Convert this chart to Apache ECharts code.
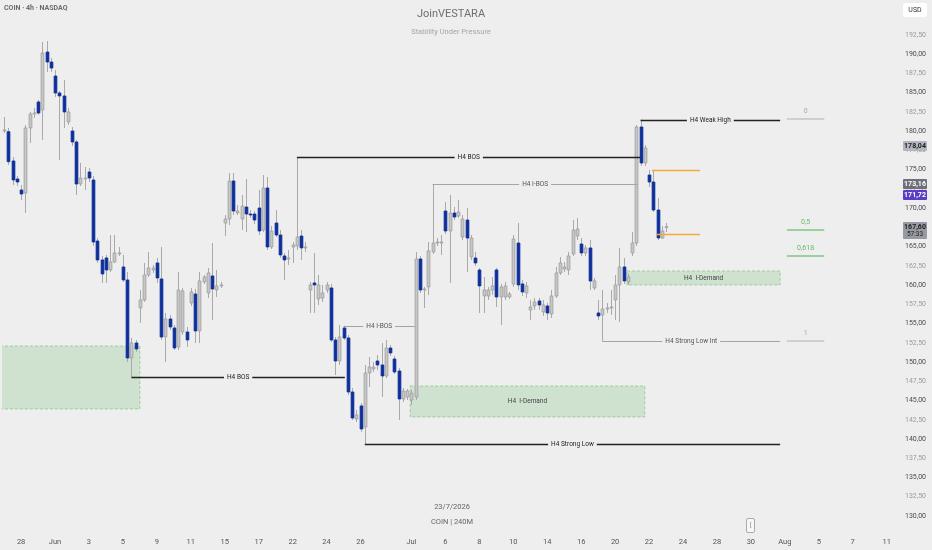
<!DOCTYPE html>
<html><head><meta charset="utf-8">
<script src="https://cdn.jsdelivr.net/npm/echarts/dist/echarts.min.js"></script>
<style>html,body{margin:0;padding:0;background:#eeeeee}#c{width:932px;height:550px}</style>
</head><body><div id="c"></div><script>
// ---- candle values (COIN 4h), index 0 = first 4h bar of 27 May ----
const open = [
180.09,179.94,176.13,173.79,172.36,171.97,180.42,182.30,183.80,182.76,
190.29,188.99,187.17,184.97,184.58,181.20,180.03,178.60,173.14,173.86,
174.70,173.66,165.73,163.27,163.53,161.97,163.01,164.05,162.36,160.67,
150.53,152.48,157.03,158.07,161.32,161.97,162.88,160.80,153.26,155.60,
154.43,151.96,153.91,153.91,157.68,158.85,154.04,160.41,158.98,161.19,
159.37,159.95,168.07,168.59,173.53,169.37,168.59,170.15,169.24,169.24,
170.02,167.16,172.62,164.96,168.07,166.51,163.79,163.46,164.96,165.08,
166.38,164.89,159.37,160.28,158.20,158.33,159.37,159.63,152.87,150.14,
154.43,153.13,146.11,142.60,144.30,141.56,148.58,149.10,150.14,149.62,
148.19,151.83,150.40,148.84,145.20,145.46,145.07,145.46,163.40,159.37,
159.76,164.31,165.47,165.54,169.63,167.03,169.37,168.98,166.25,168.46,
163.66,163.53,161.97,158.59,158.59,159.37,161.97,158.46,158.46,158.46,
160.15,165.47,160.15,158.98,156.77,157.29,157.94,156.51,157.29,156.25,
158.59,161.58,162.10,161.97,164.05,166.38,165.34,164.18,164.83,159.63,
156.38,156.12,156.96,157.09,158.07,160.02,162.36,160.41,164.18,165.47,
180.55,175.87,174.31,173.40,169.76,166.12,167.49];
const high = [
181.85,180.42,176.65,174.18,173.01,180.81,182.50,183.02,184.06,191.59,
191.72,189.51,187.95,185.23,186.65,183.02,180.55,178.86,175.87,175.35,
175.22,174.18,166.12,163.79,163.92,166.51,166.51,164.96,163.92,161.71,
153.13,152.87,159.37,162.88,164.31,162.62,163.53,164.96,156.38,156.12,
154.82,161.71,159.63,154.56,159.63,159.50,161.71,161.32,162.23,165.47,
161.97,160.41,169.11,174.57,174.57,170.41,171.71,173.79,169.76,169.63,
172.36,174.31,174.05,167.68,169.76,167.16,164.18,164.57,165.60,176.65,
167.16,165.60,160.41,164.18,161.32,160.02,160.41,160.15,153.26,154.82,
154.73,153.52,146.63,143.77,144.69,149.62,150.66,150.01,150.92,152.48,
152.87,152.22,150.79,149.23,146.63,146.50,146.37,164.31,163.79,159.76,
165.60,173.14,166.12,166.51,170.80,171.71,170.15,171.06,169.11,170.02,
166.51,164.31,162.23,161.06,159.76,161.06,162.23,160.15,160.41,159.11,
166.51,168.07,160.67,160.41,158.07,158.33,158.33,158.07,157.68,159.37,
162.36,163.66,163.01,164.31,168.46,168.72,166.12,165.21,165.86,160.93,
158.07,159.37,157.68,159.37,161.32,164.83,163.53,161.45,166.90,180.81,
181.52,178.21,174.96,174.83,171.32,167.68,168.07];
const low = [
179.77,175.61,173.01,172.88,171.06,169.37,178.47,181.72,182.11,178.86,
187.69,187.69,184.45,176.26,180.42,180.81,178.08,171.71,172.88,172.36,
173.40,165.08,162.88,160.28,160.28,161.71,162.88,163.79,160.41,150.01,
148.06,151.31,155.08,157.81,161.06,161.58,160.28,152.87,150.01,154.17,
151.57,151.57,153.52,151.96,157.29,152.48,152.48,160.15,158.33,155.47,
158.46,159.63,166.38,167.81,169.11,169.11,167.16,166.90,168.72,167.94,
166.51,166.90,164.57,164.70,166.25,163.53,160.67,162.62,162.88,164.57,
163.27,164.31,156.38,156.38,157.42,157.81,158.98,152.61,148.32,149.62,
152.87,145.72,142.47,142.21,140.92,139.36,146.76,148.71,148.97,145.46,
147.93,150.79,148.45,142.47,144.81,145.07,144.42,145.07,158.98,157.03,
158.72,164.05,165.08,163.92,166.64,160.28,168.46,168.72,165.86,161.71,
163.27,162.49,156.38,156.38,158.07,158.72,157.16,154.82,158.07,158.20,
159.76,159.37,158.59,158.33,155.47,156.77,156.77,156.00,155.47,155.73,
158.33,161.32,161.71,161.32,163.79,165.86,163.79,163.79,159.37,159.37,
155.47,152.74,156.38,156.12,155.47,155.21,160.15,160.02,163.79,165.08,
175.48,175.48,172.75,169.50,165.86,165.99,166.90];
const close = [
180.16,176.04,173.66,173.40,171.84,180.42,182.24,182.37,182.37,190.16,
188.99,188.21,184.97,184.58,182.50,182.50,178.60,173.14,173.92,173.92,
173.92,165.60,163.27,161.45,161.97,163.01,164.18,164.18,160.67,150.53,
152.48,151.70,158.07,161.32,162.23,162.23,160.93,153.26,155.60,154.56,
151.83,159.37,159.24,152.87,159.11,154.04,160.54,161.06,161.58,159.50,
159.89,160.02,168.59,173.53,169.63,169.63,170.28,169.24,169.11,168.46,
167.03,172.62,164.96,167.03,166.51,163.92,163.27,163.53,165.21,166.25,
164.83,164.96,160.02,160.02,160.02,158.98,160.02,152.87,150.14,153.26,
153.13,146.11,142.73,143.12,141.30,148.58,149.36,149.36,149.62,148.19,
151.83,151.18,148.71,145.20,146.24,146.24,145.98,163.40,159.37,159.50,
164.44,165.47,165.60,165.60,167.03,169.37,168.85,169.50,168.59,166.12,
166.12,162.88,159.89,159.37,159.37,159.89,158.46,159.76,159.89,158.85,
165.99,160.02,159.11,159.89,157.16,157.81,157.42,157.42,156.38,158.59,
161.58,162.88,162.36,163.79,167.16,167.29,164.18,164.83,160.54,160.54,
155.99,156.90,157.03,157.16,160.02,162.36,160.54,161.06,165.47,180.55,
175.87,177.82,173.40,169.76,166.12,167.03,167.60];

// ---- time axis: trading sessions, 4 bars per day ----
const tradingDays = ['05-27','05-28','05-29',
'06-01','06-02','06-03','06-04','06-05','06-08','06-09','06-10','06-11','06-12',
'06-15','06-16','06-17','06-18','06-22','06-23','06-24','06-25','06-26','06-29','06-30',
'07-01','07-02','07-06','07-07','07-08','07-09','07-10','07-13','07-14','07-15','07-16','07-17',
'07-20','07-21','07-22','07-23','07-24','07-27','07-28','07-29','07-30','07-31',
'08-03','08-04','08-05','08-06','08-07','08-10','08-11','08-12'];
const barsPerDay = 4;
const slotCount = 210;
const tickDays   = ['05-28','06-01','06-03','06-05','06-09','06-11','06-15','06-17','06-22','06-24','06-26','07-01','07-06','07-08','07-10','07-14','07-16','07-20','07-22','07-24','07-28','07-30','08-03','08-05','08-07','08-11'];
const tickLabels = ['28','Jun','3','5','9','11','15','17','22','24','26','Jul','6','8','10','14','16','20','22','24','28','30','Aug','5','7','11'];

// ---- price axis ----
const yMin = 127.5, yMax = 197.05, yStep = 2.5;

// ---- annotations (slot index, price) ----
const zones = [
  {from: -1,    to: 32.0,  top: 152.09, bottom: 143.90, label: ''},
  {from: 95.7,  to: 151.0, top: 146.89, bottom: 142.87, label: 'H4  I-Demand'},
  {from: 146.8, to: 182.9, top: 161.84, bottom: 160.02, label: 'H4  I-Demand'}
];
const majorLevels = [
  {label: 'H4 BOS',        price: 148.06, from: 30,  to: 80.3},
  {label: 'H4 BOS',        price: 176.65, from: 69,  to: 150},
  {label: 'H4 Weak High',  price: 181.52, from: 150, to: 182.9},
  {label: 'H4 Strong Low', price: 139.36, from: 85,  to: 182.9}
];
const minorLevels = [
  {label: 'H4 I-BOS',          price: 154.73, from: 80,  to: 96.8},
  {label: 'H4 I-BOS',          price: 173.14, from: 101, to: 149.3},
  {label: 'H4 Strong Low Int', price: 152.74, from: 141, to: 182.9}
];
const rangeLevels = [
  {price: 174.90, from: 152.7, to: 164.0},
  {price: 166.63, from: 153.6, to: 164.0}
];
const fibHigh = 181.55, fibLow = 152.74, fibFrom = 184.5, fibTo = 193.3;
const fibRatios = [0, 0.5, 0.618, 1];
const fibLabels = ['0', '0,5', '0,618', '1'];
const priceTags = [178.04, 173.16, 171.72, 167.60];
const priceTagText = ['178,04', '173,16', '171,72', '167,60'];
const priceTagSub = ['', '', '', '57:33'];

// ---------------------------------------------------------------
const categories = [];
tradingDays.forEach(d => { for (let j = 0; j < barsPerDay; j++) categories.push(d + '#' + j); });
categories.length = slotCount;
const labelAt = {};
tickDays.forEach((d, i) => { const idx = categories.indexOf(d + '#0'); if (idx >= 0) labelAt[idx] = tickLabels[i]; });

const FONT = 'Roboto, "Noto Sans", sans-serif';
const BG = '#eeeeee';

function px(api, k, p) {
  const k0 = Math.floor(k);
  const c = api.coord([k0, p]);
  const bw = api.size([1, 0])[0];
  return [c[0] + (k - k0) * bw, c[1]];
}
function fmt(v) { return v.toFixed(2).replace('.', ','); }

function levelSeries(defs, color, width, textColor, z) {
  return {
    type: 'custom', z: z, silent: true, clip: true,
    data: defs.map(d => [Math.round(d.from), d.price]),
    encode: {x: 0, y: 1},
    renderItem(params, api) {
      const d = defs[params.dataIndex];
      const a = px(api, d.from, d.price), b = px(api, d.to, d.price);
      const y = Math.round(a[1]) + (width % 2 ? 0.5 : 0);
      const ch = [{type: 'line', shape: {x1: a[0], y1: y, x2: b[0], y2: y}, style: {stroke: color, lineWidth: width}}];
      if (d.label) ch.push({type: 'text', style: {text: d.label, x: (a[0] + b[0]) / 2, y: y, align: 'center', verticalAlign: 'middle',
        fill: textColor, fontSize: 6.5, fontFamily: FONT, backgroundColor: BG, padding: [1, 3]}});
      return {type: 'group', children: ch};
    }
  };
}

const tagBg = ['#b4b6bf', '#6d7079', '#5b3cc4', '#979aa3'];
const tagFg = ['#222', '#fff', '#fff', '#1e1e1e'];

const chart = echarts.init(document.getElementById('c'), null, {renderer: 'canvas'});
chart.setOption({
  animation: false,
  backgroundColor: BG,
  grid: {left: 2, right: 39, top: 0, bottom: 14.8},
  xAxis: {
    type: 'category', data: categories, boundaryGap: true,
    axisLine: {show: false}, axisTick: {show: false}, splitLine: {show: false},
    axisLabel: {interval: (i) => labelAt[i] !== undefined, formatter: (v, i) => labelAt[i] || '',
      fontSize: 7.5, color: '#555', margin: 3, fontFamily: FONT}
  },
  yAxis: {
    type: 'value', position: 'right', min: yMin, max: yMax, interval: yStep,
    axisLine: {show: false}, axisTick: {show: false}, splitLine: {show: false},
    axisLabel: {margin: 12, fontSize: 7, fontFamily: FONT,
      formatter: v => (v < 129 || v > 193.5) ? '' : (Math.abs(v % 5) < 1e-6 ? '{a|' + fmt(v) + '}' : '{b|' + fmt(v) + '}'),
      rich: {a: {color: '#4a4a4a', fontSize: 7, fontFamily: FONT}, b: {color: '#9a9a9a', fontSize: 7, fontFamily: FONT}}}
  },
  graphic: [
    {type: 'text', left: 4, top: 5, style: {text: 'COIN · 4h · NASDAQ', fontSize: 7, fontWeight: 'bold', fill: '#6c6c6c', fontFamily: FONT}},
    {type: 'text', x: 451, y: 14, style: {text: 'JoinVESTARA', fontSize: 11, fill: '#6f6f6f', fontFamily: FONT, align: 'center', verticalAlign: 'middle'}},
    {type: 'text', x: 451, y: 32, style: {text: 'Stability Under Pressure', fontSize: 7.5, fill: '#a6a6a6', fontFamily: FONT, align: 'center', verticalAlign: 'middle'}},
    {type: 'text', x: 452, y: 507, style: {text: '23/7/2026', fontSize: 7.5, fill: '#666', fontFamily: FONT, align: 'center', verticalAlign: 'middle'}},
    {type: 'text', x: 452, y: 522, style: {text: 'COIN | 240M', fontSize: 7.5, fill: '#666', fontFamily: FONT, align: 'center', verticalAlign: 'middle'}},
    {type: 'rect', shape: {x: 903, y: 3, width: 24, height: 14, r: 2}, style: {fill: '#ffffff'}},
    {type: 'text', x: 915, y: 10, style: {text: 'USD', fontSize: 7, fill: '#333', fontFamily: FONT, align: 'center', verticalAlign: 'middle'}},
    {type: 'rect', shape: {x: 746.5, y: 518.5, width: 8, height: 14, r: 1.5}, style: {fill: '#f7f7f7', stroke: '#aaa', lineWidth: 1}},
    {type: 'text', x: 750.5, y: 525.5, style: {text: '[', fontSize: 6, fill: '#777', fontFamily: FONT, align: 'center', verticalAlign: 'middle'}}
  ],
  series: [
    { // demand zones
      type: 'custom', z: 1, silent: true, clip: true,
      data: zones.map(d => [Math.round(d.from), d.top]), encode: {x: 0, y: 1},
      renderItem(params, api) {
        const d = zones[params.dataIndex];
        const a = px(api, d.from, d.top), b = px(api, d.to, d.bottom);
        const ch = [{type: 'rect', shape: {x: a[0], y: a[1], width: b[0] - a[0], height: b[1] - a[1]},
          style: {fill: 'rgba(76,175,80,0.19)', stroke: 'rgba(76,175,80,0.45)', lineWidth: 1, lineDash: [3, 2]}}];
        if (d.label) ch.push({type: 'text', style: {text: d.label, x: (a[0] + b[0]) / 2, y: (a[1] + b[1]) / 2,
          align: 'center', verticalAlign: 'middle', fill: '#444', fontSize: 6.5, fontFamily: FONT}});
        return {type: 'group', children: ch};
      }
    },
    { // candles
      type: 'custom', z: 2, silent: true, clip: true,
      data: open.map((o, i) => [i, o, close[i], low[i], high[i]]),
      encode: {x: 0, y: [1, 2, 3, 4]},
      renderItem(params, api) {
        const i = api.value(0), o = api.value(1), c = api.value(2), l = api.value(3), h = api.value(4);
        const po = api.coord([i, o]), pc = api.coord([i, c]), pl = api.coord([i, l]), ph = api.coord([i, h]);
        const x = Math.round(po[0]) + 0.5;
        const up = c >= o;
        const top = Math.min(po[1], pc[1]), bot = Math.max(po[1], pc[1]);
        return {type: 'group', children: [
          {type: 'line', shape: {x1: x, y1: ph[1], x2: x, y2: pl[1]}, style: {stroke: '#a9a9a9', lineWidth: 1}},
          {type: 'rect', shape: {x: x - 1.4, y: top, width: 2.8, height: Math.max(bot - top, 1)},
            style: {fill: up ? '#c7c7c7' : '#0d2f9b', stroke: up ? '#9d9d9d' : '#0d2f9b', lineWidth: 0.8}}
        ]};
      }
    },
    levelSeries(majorLevels, '#222222', 1.6, '#222', 4),
    levelSeries(minorLevels, '#a4a4a4', 1, '#555', 3),
    levelSeries(rangeLevels, '#f5a93a', 1.4, '#000', 3),
    { // fibonacci retracement
      type: 'custom', z: 3, silent: true, clip: false,
      data: fibRatios.map(r => [Math.round(fibFrom), fibHigh - r * (fibHigh - fibLow)]), encode: {x: 0, y: 1},
      renderItem(params, api) {
        const r = fibRatios[params.dataIndex];
        const p = fibHigh - r * (fibHigh - fibLow);
        const a = px(api, fibFrom, p), b = px(api, fibTo, p);
        const green = r > 0 && r < 1;
        const y = Math.round(a[1]);
        return {type: 'group', children: [
          {type: 'line', shape: {x1: a[0], y1: y, x2: b[0], y2: y}, style: {stroke: green ? '#81c784' : '#c4c4c4', lineWidth: 1.5}},
          {type: 'text', style: {text: fibLabels[params.dataIndex], x: (a[0] + b[0]) / 2, y: y - 8, align: 'center', verticalAlign: 'middle',
            fill: green ? '#66bb6a' : '#a8a8a8', fontSize: 7, fontFamily: FONT}}
        ]};
      }
    },
    { // price tags on the price scale
      type: 'custom', z: 10, silent: true, clip: false,
      data: priceTags.map(v => [slotCount - 1, v]), encode: {x: 0, y: 1},
      renderItem(params, api) {
        const i = params.dataIndex;
        const c = api.coord([slotCount - 1, priceTags[i]]);
        const bw = api.size([1, 0])[0];
        const x0 = c[0] + bw / 2 + 10;
        const sub = priceTagSub[i];
        const h = sub ? 17 : 10;
        const y0 = sub ? Math.round(c[1]) - 5 : Math.round(c[1]) - 5;
        const ch = [
          {type: 'rect', shape: {x: x0, y: y0, width: 24, height: h, r: 1}, style: {fill: tagBg[i]}},
          {type: 'text', style: {text: priceTagText[i], x: x0 + 12, y: y0 + 5, align: 'center', verticalAlign: 'middle',
            fill: tagFg[i], fontSize: 7, fontWeight: 'bold', fontFamily: FONT}}
        ];
        if (sub) ch.push({type: 'text', style: {text: sub, x: x0 + 12, y: y0 + 12, align: 'center', verticalAlign: 'middle',
            fill: tagFg[i], fontSize: 6.5, fontFamily: FONT}});
        return {type: 'group', children: ch};
      }
    }
  ]
});
</script></body></html>
